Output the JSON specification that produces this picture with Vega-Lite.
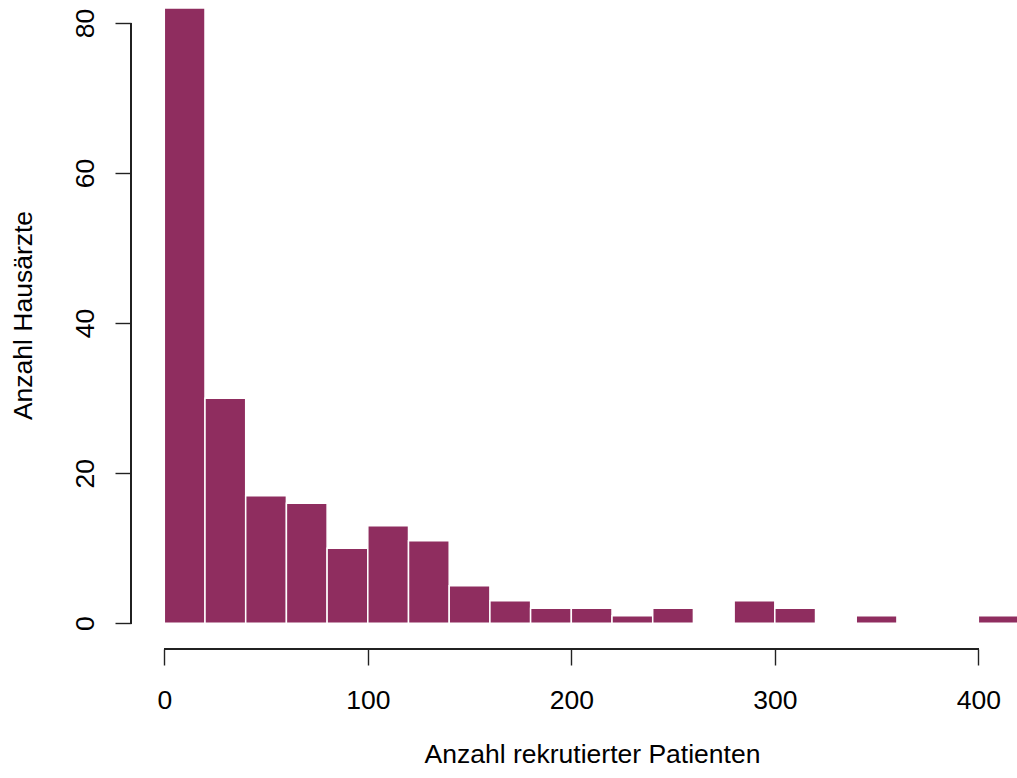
{
  "$schema": "https://vega.github.io/schema/vega-lite/v6.json",
  "autosize": {"type": "none"},
  "padding": {"left": 131, "top": 0, "right": 0, "bottom": 129},
  "width": 886,
  "height": 649,
  "background": "white",
  "config": {
    "view": {"stroke": null},
    "font": "Liberation Sans",
    "axis": {
      "domain": false,
      "grid": false,
      "tickSize": 16,
      "tickColor": "#222222",
      "tickWidth": 1.4,
      "labelFont": "Liberation Sans",
      "labelFontSize": 26.5,
      "labelColor": "#000000",
      "titleFont": "Liberation Sans",
      "titleFontSize": 26.5,
      "titleFontWeight": "normal",
      "titleColor": "#000000"
    }
  },
  "data": {
    "values": [
      {"start": 0, "end": 20, "count": 82},
      {"start": 20, "end": 40, "count": 30},
      {"start": 40, "end": 60, "count": 17},
      {"start": 60, "end": 80, "count": 16},
      {"start": 80, "end": 100, "count": 10},
      {"start": 100, "end": 120, "count": 13},
      {"start": 120, "end": 140, "count": 11},
      {"start": 140, "end": 160, "count": 5},
      {"start": 160, "end": 180, "count": 3},
      {"start": 180, "end": 200, "count": 2},
      {"start": 200, "end": 220, "count": 2},
      {"start": 220, "end": 240, "count": 1},
      {"start": 240, "end": 260, "count": 2},
      {"start": 260, "end": 280, "count": 0},
      {"start": 280, "end": 300, "count": 3},
      {"start": 300, "end": 320, "count": 2},
      {"start": 320, "end": 340, "count": 0},
      {"start": 340, "end": 360, "count": 1},
      {"start": 360, "end": 380, "count": 0},
      {"start": 380, "end": 400, "count": 0},
      {"start": 400, "end": 420, "count": 1}
    ]
  },
  "layer": [
    {
      "mark": {"type": "bar", "fill": "#8F2D5F", "stroke": "white", "strokeWidth": 1.5, "clip": true},
      "encoding": {
        "x": {
          "field": "start", "type": "quantitative",
          "scale": {"domain": [-16.36, 419.0], "nice": false, "zero": false},
          "axis": {
            "values": [0, 100, 200, 300, 400],
            "title": "Anzahl rekrutierter Patienten",
            "labelBaseline": "alphabetic",
            "labelPadding": 43,
            "titleX": 461,
            "titleY": 113,
            "titleBaseline": "alphabetic",
            "titleAlign": "center"
          }
        },
        "x2": {"field": "end"},
        "y": {
          "field": "count", "type": "quantitative",
          "scale": {"domain": [-3.44, 83.07], "nice": false, "zero": false},
          "axis": {
            "values": [0, 20, 40, 60, 80],
            "title": "Anzahl Hausärzte",
            "labelAngle": -90,
            "labelAlign": "center",
            "labelBaseline": "alphabetic",
            "labelPadding": 22,
            "titleAngle": -90,
            "titleX": -100,
            "titleY": 315,
            "titleAlign": "center",
            "titleBaseline": "alphabetic"
          }
        },
        "y2": {"datum": 0}
      }
    },
    {
      "mark": {"type": "rule", "color": "#222222", "strokeWidth": 1.4},
      "encoding": {
        "x": {"datum": 0, "type": "quantitative"},
        "x2": {"datum": 400},
        "y": {"datum": -3.44, "type": "quantitative"}
      }
    },
    {
      "mark": {"type": "rule", "color": "#222222", "strokeWidth": 1.4},
      "encoding": {
        "x": {"datum": -16.36, "type": "quantitative"},
        "y": {"datum": 0, "type": "quantitative"},
        "y2": {"datum": 80}
      }
    }
  ]
}
